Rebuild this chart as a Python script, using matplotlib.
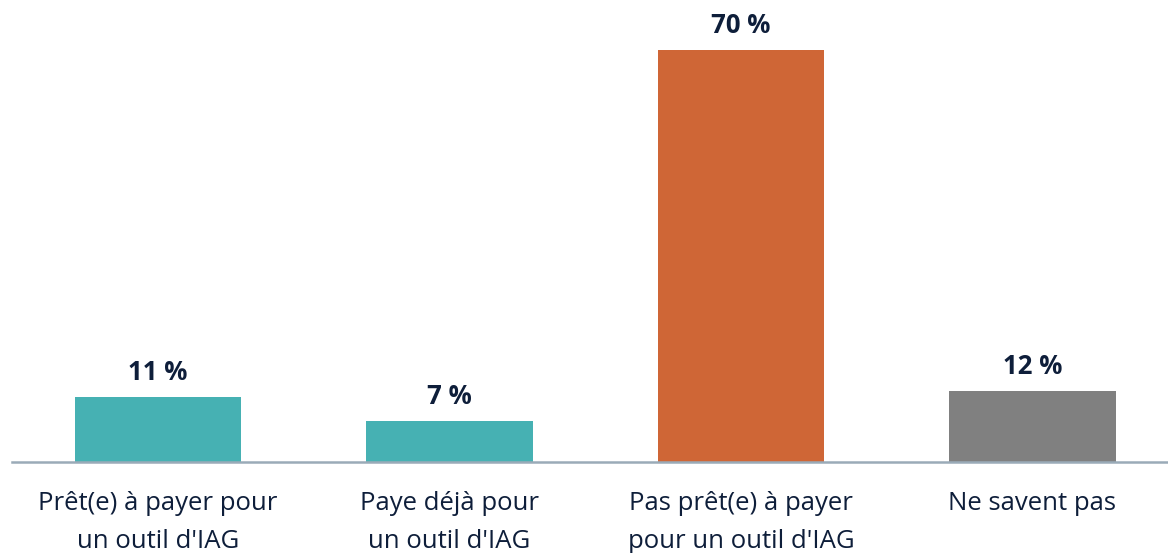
import matplotlib
matplotlib.use("Agg")
import matplotlib.pyplot as plt
import numpy as np

categories = ["Prêt(e) à payer pour\nun outil d'IAG",
              "Paye déjà pour\nun outil d'IAG",
              "Pas prêt(e) à payer\npour un outil d'IAG",
              "Ne savent pas"]
values = [11, 7, 70, 12]
colors = ["#46B1B3", "#46B1B3", "#CF6636", "#808080"]

text_color = "#0E1E3A"
plt.rcParams['font.family'] = ['Open Sans', 'DejaVu Sans']

fig = plt.figure(figsize=(11.68, 5.53), dpi=100)
# axes placed in pixels: baseline at y=462, left edge at x=12
ax = fig.add_axes([12 / 1168, (553 - 462) / 553, 1 - 12 / 1168, (462 - 10) / 553])

x = np.arange(len(values))
ax.bar(x, values, width=0.57, color=colors)

for xi, v in zip(x, values):
    ax.annotate(f"{v} %", (xi, v), xytext=(0, 8), textcoords="offset points",
                ha="center", va="bottom", fontsize=18.5, fontweight="bold",
                color=text_color)

# centers at 158 px, spacing 291.5 px
ax.set_xlim((12 - 158) / 291.5, (1168 - 158) / 291.5)
ax.set_ylim(0, 452 / 5.886)

ax.set_xticks(x)
ax.set_xticklabels(categories, fontsize=18.5, color=text_color, linespacing=1.65)
ax.tick_params(axis="x", length=0, pad=21)
ax.set_yticks([])

for side in ["top", "right", "left"]:
    ax.spines[side].set_visible(False)
ax.spines["bottom"].set_color("#9AABB8")
ax.spines["bottom"].set_linewidth(1.8)

fig.savefig("out.png", dpi=100)
